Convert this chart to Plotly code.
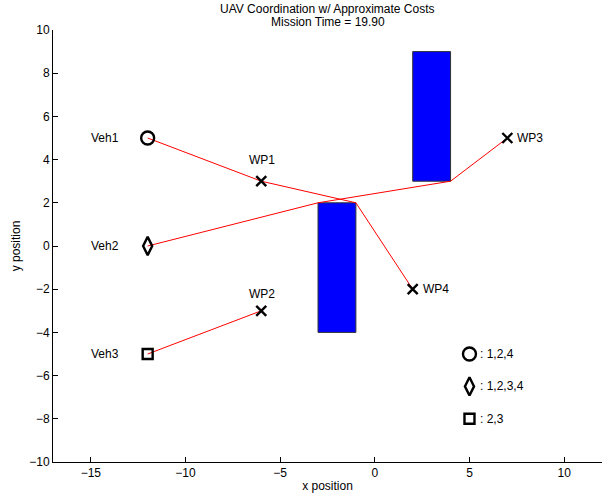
import plotly.graph_objects as go

# Vehicles
veh_names = ["Veh1", "Veh2", "Veh3"]
veh_x = [-12, -12, -12]
veh_y = [5, 0, -5]
veh_symbols = ["circle-open", "diamond-tall-open", "square-open"]

# Waypoints
wp_names = ["WP1", "WP2", "WP3", "WP4"]
wp_x = [-6, -6, 7, 2]
wp_y = [3, -3, 5, -2]

# Paths
path1_x = [-12, -6, -1, 2]
path1_y = [5, 3, 2, -2]
path2_x = [-12, -3, 4, 7]
path2_y = [0, 2, 3, 5]
path3_x = [-12, -6]
path3_y = [-5, -3]

# Obstacles (x0, x1, y0, y1)
obst1 = [-3, -1, -4, 2]
obst2 = [2, 4, 3, 9]

# Assignment legend
legend_labels = [": 1,2,4", ": 1,2,3,4", ": 2,3"]
legend_y = [-5, -6.5, -8]
legend_x = 5

# Title lines
title_lines = ["UAV Coordination w/ Approximate Costs", "Mission Time = 19.90"]

FONT = "Liberation Sans, Arial, Helvetica, sans-serif"
sizes = [13, 13, 10]

fig = go.Figure()

for ob in [obst1, obst2]:
    x0, x1, y0, y1 = ob
    fig.add_trace(go.Scatter(x=[x0, x1, x1, x0, x0], y=[y0, y0, y1, y1, y0],
                             mode="lines", fill="toself", fillcolor="#0000ff",
                             line=dict(color="#333333", width=1), hoverinfo="skip"))

for px, py in [(path1_x, path1_y), (path2_x, path2_y), (path3_x, path3_y)]:
    fig.add_trace(go.Scatter(x=px, y=py, mode="lines",
                             line=dict(color="#ff0000", width=1)))

fig.add_trace(go.Scatter(x=wp_x, y=wp_y, mode="markers",
                         marker=dict(symbol="x-thin-open", size=10, color="black",
                                     line=dict(color="black", width=2.4))))

for i in range(3):
    for mx, my in [(veh_x[i], veh_y[i]), (legend_x, legend_y[i])]:
        fig.add_trace(go.Scatter(x=[mx], y=[my], mode="markers",
                                 marker=dict(symbol=veh_symbols[i], size=sizes[i],
                                             color="black",
                                             line=dict(color="black", width=2.4))))

annots = []
for i in range(3):
    annots.append(dict(x=-15.1, y=veh_y[i], text=veh_names[i], xanchor="left",
                       yanchor="middle", showarrow=False))
    annots.append(dict(x=legend_x + 0.45, y=legend_y[i], text=legend_labels[i],
                       xanchor="left", yanchor="middle", showarrow=False))

wp_text_pos = [(-6.75, 4.0), (-6.75, -2.2), (7.4, 5), (2.45, -2)]
for name, (tx, ty) in zip(wp_names, wp_text_pos):
    annots.append(dict(x=tx, y=ty, text=name, xanchor="left", yanchor="middle",
                       showarrow=False))

for a in annots:
    a["font"] = dict(family=FONT, size=12, color="black")

plot_h = 497 - 30 - 35
for line, py in zip(title_lines, [9, 22]):
    annots.append(dict(x=0.5, y=1 + (30 - py) / plot_h, xref="paper", yref="paper",
                       xanchor="center", yanchor="middle", text=line, showarrow=False,
                       font=dict(family=FONT, size=12, color="black")))

fig.update_layout(
    width=605, height=497,
    margin=dict(l=53, r=3, t=30, b=35, autoexpand=False),
    plot_bgcolor="white", paper_bgcolor="white",
    showlegend=False,
    font=dict(family=FONT, size=12, color="black"),
    annotations=annots,
)
fig.update_xaxes(range=[-17, 12], tickmode="array", tickvals=[-15, -10, -5, 0, 5, 10],
                 ticks="inside", ticklen=5, tickcolor="black", showline=True,
                 linecolor="black", linewidth=1, showgrid=False, zeroline=False,
                 automargin=False, tickfont=dict(size=12),
                 title=dict(text="x position", standoff=2, font=dict(size=12)))
fig.update_yaxes(range=[-10, 10], tickmode="array", tickvals=list(range(-10, 11, 2)),
                 ticks="inside", ticklen=5, tickcolor="black", showline=True,
                 linecolor="black", linewidth=1, showgrid=False, zeroline=False,
                 automargin=False, tickfont=dict(size=12),
                 title=dict(text="y position", standoff=6, font=dict(size=12)))

fig.write_html("out.html", config={"displayModeBar": False},
               post_script="document.body.style.margin='0';")
